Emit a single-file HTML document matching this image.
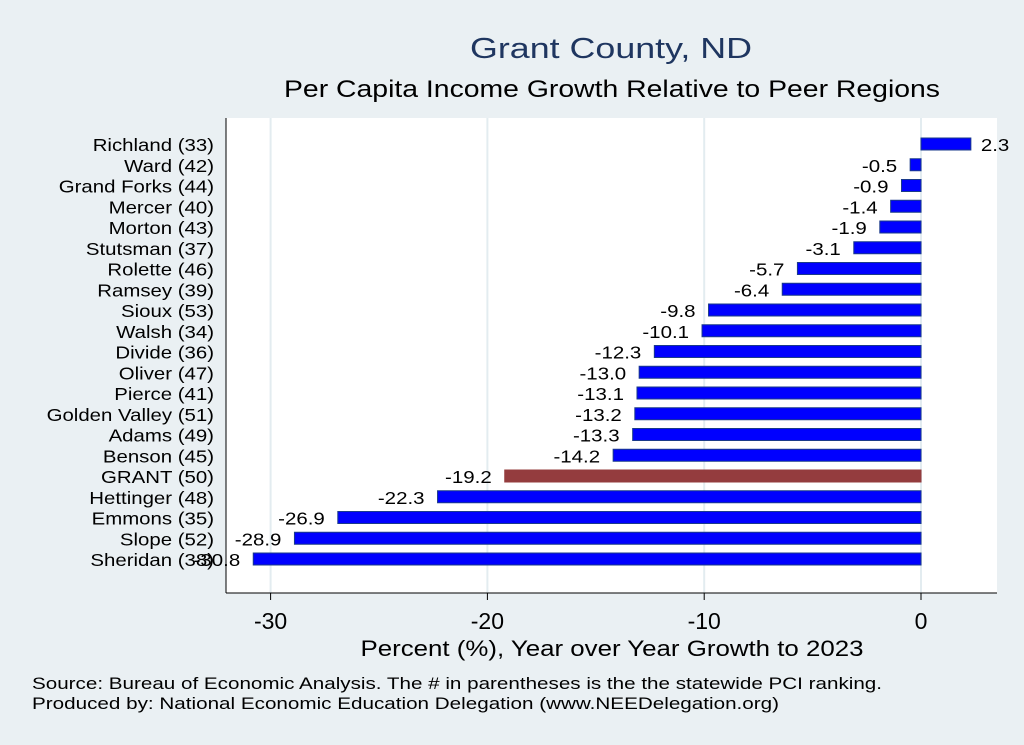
<!DOCTYPE html>
<html><head><meta charset="utf-8"><style>
body{margin:0;background:#eaf0f3;}
svg{display:block;font-family:"Liberation Sans",sans-serif;}
</style></head><body>
<svg width="1024" height="745">
<rect x="0" y="0" width="1024" height="745" fill="#eaf0f3"/>
<rect x="226" y="118" width="771" height="475" fill="#ffffff"/>
<g id="grid"></g>
<g id="bars"></g>
<line x1="226" y1="118" x2="226" y2="593" stroke="#000" stroke-width="1"/>
<line x1="226" y1="593" x2="997" y2="593" stroke="#000" stroke-width="1"/>
<g id="xticks"></g>
<text x="611" y="58" text-anchor="middle" font-size="29" fill="#1f3660" textLength="282" lengthAdjust="spacingAndGlyphs">Grant County, ND</text>
<text x="612" y="97" text-anchor="middle" font-size="24" fill="#000" textLength="656" lengthAdjust="spacingAndGlyphs">Per Capita Income Growth Relative to Peer Regions</text>
<text x="612" y="656" text-anchor="middle" font-size="22" fill="#000" textLength="503" lengthAdjust="spacingAndGlyphs">Percent (%), Year over Year Growth to 2023</text>
<text x="32" y="689" font-size="17" fill="#000" textLength="850" lengthAdjust="spacingAndGlyphs">Source: Bureau of Economic Analysis. The # in parentheses is the the statewide PCI ranking.</text>
<text x="32" y="709" font-size="17" fill="#000" textLength="747" lengthAdjust="spacingAndGlyphs">Produced by: National Economic Education Delegation (www.NEEDelegation.org)</text>
</svg>
<script>
const categories=["Richland (33)","Ward (42)","Grand Forks (44)","Mercer (40)","Morton (43)","Stutsman (37)","Rolette (46)","Ramsey (39)","Sioux (53)","Walsh (34)","Divide (36)","Oliver (47)","Pierce (41)","Golden Valley (51)","Adams (49)","Benson (45)","GRANT (50)","Hettinger (48)","Emmons (35)","Slope (52)","Sheridan (38)"];
const values=[2.3,-0.5,-0.9,-1.4,-1.9,-3.1,-5.7,-6.4,-9.8,-10.1,-12.3,-13.0,-13.1,-13.2,-13.3,-14.2,-19.2,-22.3,-26.9,-28.9,-30.8];
const highlight="GRANT (50)";
const tickValues=[-30,-20,-10,0];
const NS="http://www.w3.org/2000/svg";
function x(v){return 921+v*21.68;}
function y(i){return 144+i*20.75;}
function mk(t,a,p){const e=document.createElementNS(NS,t);for(const k in a)e.setAttribute(k,a[k]);p.appendChild(e);return e;}
function widen(e,f){const L=e.getComputedTextLength();e.setAttribute('textLength',L*f);e.setAttribute('lengthAdjust','spacingAndGlyphs');}
const grid=document.getElementById('grid'),bars=document.getElementById('bars'),xt=document.getElementById('xticks');
tickValues.forEach(v=>{
 const g=mk('line',{x1:x(v),x2:x(v),y1:118,y2:593,stroke:'#e3ecf0','stroke-width':2},grid);
 
 
 const t=mk('line',{x1:x(v),x2:x(v),y1:593,y2:600,stroke:'#000'},xt);
 
 
 const l=mk('text',{x:x(v),y:629,'text-anchor':'middle','font-size':23},xt);
 l.textContent=v;
 
 
});
categories.forEach((c,i)=>{
 const v=values[i],cy=y(i);
 const lab=mk('text',{x:214,y:cy+7,'text-anchor':'end','font-size':17.3},bars);
 lab.textContent=c;
 
 
 widen(lab,1.18);
 const x0=Math.min(x(0),x(v)),w=Math.abs(x(v)-x(0));
 const hl=c===highlight;
 const r=mk('rect',{x:x0,y:cy-6,width:w,height:12,fill:hl?'#943c3e':'#0000ff',stroke:hl?'#943c3e':'#1a3a8a','stroke-width':1},bars);
 
 
 const vt=v>=0?mk('text',{x:x(v)+10,y:cy+7,'font-size':17.5},bars):mk('text',{x:x(v)-13,y:cy+7,'text-anchor':'end','font-size':17.5},bars);
 vt.textContent=v.toFixed(1);
 
 
 widen(vt,1.17);
});
</script>
</body></html>
